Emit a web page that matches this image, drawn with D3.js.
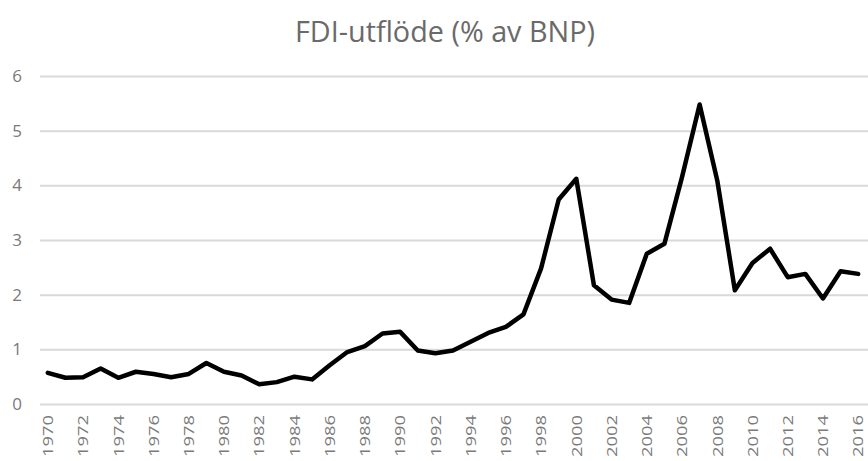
<!DOCTYPE html>
<html>
<head>
<meta charset="utf-8">
<script src="https://cdn.jsdelivr.net/npm/d3@7"></script>
<style>
  body { margin: 0; background: #fff; }
  #chart text { font-family: "Open Sans", sans-serif; }
</style>
</head>
<body>
<div id="chart"></div>
<script>
// data
var title = "FDI-utflöde (% av BNP)";
var years = d3.range(1970, 2017);
var values = [
    0.57, 0.48, 0.49, 0.65, 0.48, 0.59, 0.55, 0.49, 0.55, 0.75,
    0.59, 0.52, 0.36, 0.40, 0.50, 0.45, 0.71, 0.95, 1.06, 1.29,
    1.32, 0.98, 0.93, 0.98, 1.14, 1.30, 1.41, 1.64, 2.48, 3.74,
    4.12, 2.17, 1.91, 1.85, 2.75, 2.93, 4.15, 5.48, 4.09, 2.08,
    2.58, 2.84, 2.32, 2.38, 1.93, 2.43, 2.38
];
var yTicks = [0, 1, 2, 3, 4, 5, 6];
var xTickYears = years.filter(function(d) { return d % 2 === 0; });

var W = 868, H = 461;
var margin = { top: 76, right: 1, bottom: 57, left: 39 };
var width = W - margin.left - margin.right,
    height = H - margin.top - margin.bottom;

var svg = d3.select("#chart")
    .append("svg")
    .attr("width", W)
    .attr("height", H);

var g = svg.append("g")
    .attr("transform", "translate(" + margin.left + "," + margin.top + ")");

// scales
var x = d3.scaleBand()
    .domain(years)
    .range([0, width])
    .padding(0);

var y = d3.scaleLinear()
    .domain([0, 6])
    .range([height, 0]);

// title
svg.append("text")
    .attr("x", 445)
    .attr("y", 42)
    .attr("text-anchor", "middle")
    .attr("textLength", 300)
    .attr("lengthAdjust", "spacingAndGlyphs")
    .style("font-size", "29px")
    .style("fill", "#6a6a6a")
    .text(title);

// y axis + gridlines
var yAxis = g.append("g")
    .call(d3.axisLeft(y).tickValues(yTicks).tickSize(-width - 1).tickPadding(17).tickFormat(d3.format("d")));
yAxis.select(".domain").remove();
yAxis.selectAll(".tick line")
    .attr("x1", 1)
    .style("stroke", "#d9d9d9")
    .style("stroke-width", 2);
yAxis.selectAll(".tick text")
    .style("font-size", "17px")
    .style("fill", "#7a7a7a");

// x axis labels
var xAxis = g.append("g")
    .attr("transform", "translate(0," + height + ")")
    .call(d3.axisBottom(x).tickValues(xTickYears).tickSize(0));
xAxis.select(".domain").remove();
xAxis.selectAll(".tick text")
    .attr("transform", "rotate(-90)")
    .attr("x", -11)
    .attr("y", 0)
    .attr("dy", "0.35em")
    .attr("text-anchor", "end")
    .attr("textLength", 42)
    .attr("lengthAdjust", "spacingAndGlyphs")
    .style("font-size", "15px")
    .style("fill", "#7a7a7a");

// the line
var line = d3.line()
    .x(function(d, i) { return x(years[i]) + x.bandwidth() / 2; })
    .y(function(d) { return y(d); });

g.append("path")
    .datum(values)
    .attr("d", line)
    .style("fill", "none")
    .style("stroke", "#000")
    .style("stroke-width", 4.5)
    .style("stroke-linejoin", "round")
    .style("stroke-linecap", "round");
</script>
</body>
</html>
